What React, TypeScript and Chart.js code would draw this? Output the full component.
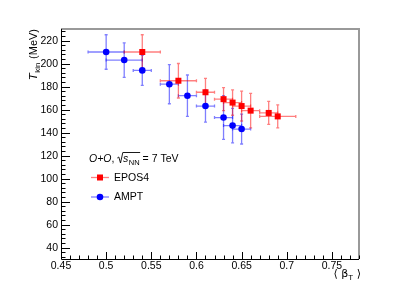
import React, { useEffect, useRef } from "react";
import { Chart, registerables } from "chart.js";
Chart.register(...registerables);

// ---- data ----
const eposX = [0.54, 0.58, 0.61, 0.63, 0.64, 0.65, 0.66, 0.68, 0.69];
const eposY = [210, 185, 175, 169, 166, 163, 159, 157, 154];
const eposXErr = [0.02, 0.02, 0.01, 0.01, 0.01, 0.01, 0.01, 0.01, 0.02];
const eposYErr = [15, 15, 12, 10, 11, 13, 15, 10, 10];

const amptX = [0.5, 0.52, 0.54, 0.57, 0.59, 0.61, 0.63, 0.64, 0.65];
const amptY = [210, 203, 194, 182, 172, 163, 153, 146, 143];
const amptXErr = [0.02, 0.02, 0.01, 0.01, 0.01, 0.01, 0.01, 0.01, 0.01];
const amptYErr = [15, 15, 13, 17, 18, 14, 19, 15, 13];

const xTicks = [0.45, 0.5, 0.55, 0.6, 0.65, 0.7, 0.75];
const xTickLabels = ["0.45", "0.5", "0.55", "0.6", "0.65", "0.7", "0.75"];
const yTicks = [40, 60, 80, 100, 120, 140, 160, 180, 200, 220];
const xMin = 0.45, xMax = 0.78, yMin = 30, yMax = 230;
const xMinorStep = 0.01, yMinorStep = 4;

const seriesNames = ["EPOS4", "AMPT"];
const FONT = '"Liberation Sans", Arial, "DejaVu Sans", sans-serif';

const RED = "#ff0000";
const BLUE = "#0000ff";
const RED_E = "rgba(255,0,0,0.5)";
const BLUE_E = "rgba(0,0,255,0.5)";

function drawMarker(ctx: CanvasRenderingContext2D, kind: string, x: number, y: number, color: string) {
  ctx.fillStyle = color;
  if (kind === "rect") {
    ctx.fillRect(x - 3, y - 3, 6, 6);
  } else {
    ctx.beginPath();
    ctx.arc(x, y, 3.3, 0, Math.PI * 2);
    ctx.fill();
  }
}

const errorBarPlugin = {
  id: "errbars",
  beforeDatasetsDraw(chart: any) {
    const ctx = chart.ctx as CanvasRenderingContext2D;
    const xs = chart.scales.x, ys = chart.scales.y;
    const sets = [
      { x: amptX, y: amptY, ex: amptXErr, ey: amptYErr, c: BLUE_E },
      { x: eposX, y: eposY, ex: eposXErr, ey: eposYErr, c: RED_E },
    ];
    ctx.save();
    ctx.lineWidth = 1.3;
    for (const s of sets) {
      ctx.strokeStyle = s.c;
      for (let i = 0; i < s.x.length; i++) {
        const px = xs.getPixelForValue(s.x[i]);
        const py = ys.getPixelForValue(s.y[i]);
        const x1 = xs.getPixelForValue(s.x[i] - s.ex[i]);
        const x2 = xs.getPixelForValue(s.x[i] + s.ex[i]);
        const y1 = ys.getPixelForValue(s.y[i] + s.ey[i]);
        const y2 = ys.getPixelForValue(s.y[i] - s.ey[i]);
        ctx.beginPath();
        ctx.moveTo(x1, py); ctx.lineTo(x2, py);
        ctx.moveTo(px, y1); ctx.lineTo(px, y2);
        ctx.moveTo(x1, py - 1.5); ctx.lineTo(x1, py + 1.5);
        ctx.moveTo(x2, py - 1.5); ctx.lineTo(x2, py + 1.5);
        ctx.moveTo(px - 1.5, y1); ctx.lineTo(px + 1.5, y1);
        ctx.moveTo(px - 1.5, y2); ctx.lineTo(px + 1.5, y2);
        ctx.stroke();
      }
    }
    ctx.restore();
  },
};

const framePlugin = {
  id: "frame",
  afterDraw(chart: any) {
    const ctx = chart.ctx as CanvasRenderingContext2D;
    const a = chart.chartArea;
    const xs = chart.scales.x, ys = chart.scales.y;
    ctx.save();
    // frame top/right gray
    ctx.strokeStyle = "#999999";
    ctx.lineWidth = 2;
    ctx.beginPath();
    ctx.moveTo(a.left, a.top); ctx.lineTo(a.right, a.top); ctx.lineTo(a.right, a.bottom);
    ctx.stroke();
    // axes
    ctx.strokeStyle = "#000000";
    ctx.lineWidth = 1;
    ctx.beginPath();
    ctx.moveTo(a.left + 0.5, a.top); ctx.lineTo(a.left + 0.5, a.bottom + 0.5);
    ctx.lineTo(a.right, a.bottom + 0.5);
    ctx.stroke();
    // y ticks
    ctx.beginPath();
    for (let v = 32; v < yMax; v += yMinorStep) {
      const y = Math.round(ys.getPixelForValue(v)) + 0.5;
      const major = yTicks.some((t) => Math.abs(t - v) < 1e-6);
      if (major) continue;
      ctx.moveTo(a.left, y); ctx.lineTo(a.left + 4.5, y);
    }
    for (const t of yTicks) {
      const y = Math.round(ys.getPixelForValue(t)) + 0.5;
      ctx.moveTo(a.left, y); ctx.lineTo(a.left + 9, y);
    }
    // x ticks
    for (let k = 0; ; k++) {
      const v = xMin + k * xMinorStep;
      if (v > xMax + 1e-9) break;
      const x = Math.round(xs.getPixelForValue(v)) + 0.5;
      const major = xTicks.some((t) => Math.abs(t - v) < 1e-6);
      ctx.moveTo(x, a.bottom); ctx.lineTo(x, a.bottom - (major ? 7 : 3.5));
    }
    ctx.stroke();

    // tick labels
    ctx.fillStyle = "#000";
    ctx.font = `10.5px ${FONT}`;
    ctx.textAlign = "right";
    ctx.textBaseline = "middle";
    for (const t of yTicks) {
      ctx.fillText(String(t), a.left - 3, ys.getPixelForValue(t) + 0.5);
    }
    ctx.textAlign = "center";
    ctx.textBaseline = "top";
    xTicks.forEach((t, i) => {
      ctx.fillText(xTickLabels[i], xs.getPixelForValue(t), a.bottom + 1.5);
    });

    // y title: T_kin (MeV), rotated, ending at top of frame
    ctx.save();
    ctx.translate(37, a.top);
    ctx.rotate(-Math.PI / 2);
    ctx.textBaseline = "alphabetic";
    ctx.textAlign = "left";
    const fT = `italic 11.5px ${FONT}`;
    const fSub = `8px ${FONT}`;
    const fMain = `11px ${FONT}`;
    ctx.font = fT; const wT = ctx.measureText("T").width;
    ctx.font = fSub; const wS = ctx.measureText("kin").width;
    ctx.font = fMain; const wM = ctx.measureText(" (MeV)").width;
    let sx = -(wT + wS + wM + 1);
    ctx.font = fT; ctx.fillText("T", sx, 0); sx += wT + 0.5;
    ctx.font = fSub; ctx.fillText("kin", sx, 3); sx += wS + 0.5;
    ctx.font = fMain; ctx.fillText(" (MeV)", sx, 0);
    ctx.restore();

    // x title <beta_T>
    {
      ctx.textAlign = "left";
      ctx.textBaseline = "alphabetic";
      const base = 277;
      const f1 = `11px "DejaVu Sans", ${FONT}`;
      const f2 = `8px ${FONT}`;
      ctx.font = f1;
      const wl = ctx.measureText("\u27E8 ").width;
      const wb = ctx.measureText("\u03B2").width;
      const wr = ctx.measureText(" \u27E9").width;
      ctx.font = f2;
      const wt = ctx.measureText("T").width;
      let x = 361 - (wl + wb + wt + wr);
      ctx.font = f1; ctx.fillText("\u27E8 ", x, base); x += wl;
      ctx.fillText("\u03B2", x, base); x += wb;
      ctx.font = f2; ctx.fillText("T", x, base + 3); x += wt;
      ctx.font = f1; ctx.fillText(" \u27E9", x, base);
    }

    // legend header
    {
      ctx.textAlign = "left";
      ctx.textBaseline = "alphabetic";
      const base = 162;
      let x = 89;
      const fi = `italic 10.5px ${FONT}`;
      const fn = `10.5px ${FONT}`;
      const fs = `7.5px ${FONT}`;
      ctx.font = fi; ctx.fillText("O+O", x, base); x += ctx.measureText("O+O").width;
      ctx.font = fn; ctx.fillText(", ", x, base); x += ctx.measureText(", ").width;
      ctx.strokeStyle = "#000";
      ctx.lineWidth = 0.9;
      const topY = base - 9.5;
      ctx.beginPath();
      ctx.moveTo(x, base - 4);
      ctx.lineTo(x + 1.5, base - 5);
      ctx.lineTo(x + 3.2, base + 1);
      ctx.lineTo(x + 5.5, topY);
      x += 5.8;
      ctx.font = fi; ctx.fillText("s", x, base); x += ctx.measureText("s").width + 0.5;
      ctx.font = fs; ctx.fillText("NN", x, base + 2.5); x += ctx.measureText("NN").width;
      ctx.lineTo(x + 0.5, topY);
      ctx.stroke();
      ctx.font = fn; ctx.fillText(" = 7 TeV", x, base);
    }

    // legend entries
    const entries = [
      { name: seriesNames[0], kind: "rect", c: RED, e: RED_E, y: 177.5 },
      { name: seriesNames[1], kind: "circle", c: BLUE, e: BLUE_E, y: 197 },
    ];
    for (const en of entries) {
      ctx.strokeStyle = en.e;
      ctx.lineWidth = 1.3;
      ctx.beginPath();
      ctx.moveTo(91, en.y); ctx.lineTo(109, en.y);
      ctx.stroke();
      drawMarker(ctx, en.kind, 100, en.y, en.c);
      ctx.fillStyle = "#000";
      ctx.font = `10.5px ${FONT}`;
      ctx.textBaseline = "middle";
      ctx.textAlign = "left";
      ctx.fillText(en.name, 114, en.y + 0.5);
    }
    ctx.restore();
  },
};

export default function App() {
  const ref = useRef<HTMLCanvasElement | null>(null);
  useEffect(() => {
    document.body.style.margin = "0";
    const canvas = ref.current;
    if (!canvas) return;
    const chart = new Chart(canvas, {
      type: "scatter",
      data: {
        datasets: [
          {
            label: seriesNames[0],
            data: eposX.map((x, i) => ({ x, y: eposY[i] })),
            pointStyle: "rect",
            pointRadius: 4.25,
            backgroundColor: RED,
            borderColor: RED,
            borderWidth: 0,
          },
          {
            label: seriesNames[1],
            data: amptX.map((x, i) => ({ x, y: amptY[i] })),
            pointStyle: "circle",
            pointRadius: 3.3,
            backgroundColor: BLUE,
            borderColor: BLUE,
            borderWidth: 0,
          },
        ],
      },
      options: {
        animation: false,
        responsive: false,
        devicePixelRatio: 1,
        layout: { padding: { left: 61, top: 29, right: 40, bottom: 29 } },
        plugins: { legend: { display: false }, tooltip: { enabled: false } },
        events: [],
        scales: {
          x: { type: "linear", min: xMin, max: xMax, display: false },
          y: { type: "linear", min: yMin, max: yMax, display: false },
        },
      },
      plugins: [errorBarPlugin, framePlugin],
    } as any);
    return () => chart.destroy();
  }, []);
  return (
    <div style={{ width: 399, height: 288, background: "#fff" }}>
      <canvas ref={ref} width={399} height={288} style={{ display: "block" }} />
    </div>
  );
}
